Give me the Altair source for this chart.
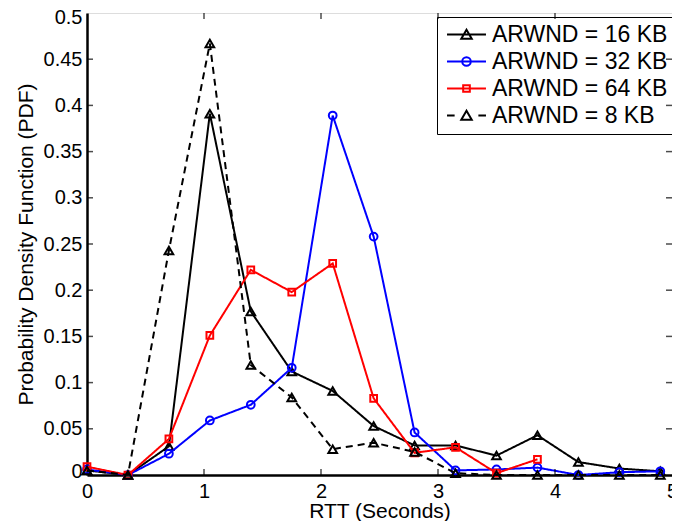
import altair as alt
import pandas as pd

# ---------------- data ----------------
rtt = [0, 0.35, 0.7, 1.05, 1.4, 1.75, 2.1, 2.45, 2.8, 3.15, 3.5, 3.85, 4.2, 4.55, 4.9]
pdf_16kb = [0.005, 0.0, 0.031, 0.391, 0.177, 0.112, 0.091, 0.053, 0.032, 0.032, 0.021, 0.043, 0.014, 0.007, 0.004]
pdf_32kb = [0.006, 0.0, 0.023, 0.059, 0.076, 0.116, 0.389, 0.258, 0.046, 0.005, 0.006, 0.008, 0.0, 0.003, 0.004]
pdf_64kb = [0.009, 0.0, 0.039, 0.151, 0.222, 0.198, 0.229, 0.083, 0.024, 0.030, 0.002, 0.017]
pdf_8kb = [0.005, 0.0, 0.243, 0.467, 0.119, 0.084, 0.028, 0.035, 0.025, 0.002, 0.0, 0.0, 0.0, 0.0, 0.0]

series_names = ["ARWND = 16 KB", "ARWND = 32 KB", "ARWND = 64 KB", "ARWND = 8 KB"]
series_values = [pdf_16kb, pdf_32kb, pdf_64kb, pdf_8kb]

x_ticks = [0, 1, 2, 3, 4, 5]
y_ticks = [0, 0.05, 0.1, 0.15, 0.2, 0.25, 0.3, 0.35, 0.4, 0.45, 0.5]

# ---------------- styles ----------------
colors = ["#000000", "#0000ff", "#ff0000", "#000000"]
shapes = ["triangle-up", "circle", "square", "triangle-up"]
sizes = [75, 60, 45, 75]
dashes = [[1, 0], [1, 0], [1, 0], [7, 5]]

# legend symbols: line + marker combined (custom SVG paths, unit = half of sqrt(size))
tri = "M0,-0.5L0.55,0.45L-0.55,0.45Z"
legend_paths = [
    "M-2.05,0H2.05" + tri,
    "M-2.05,0H2.05M0.45,0A0.45,0.45,0,1,1,-0.45,0A0.45,0.45,0,1,1,0.45,0",
    "M-2.05,0H2.05M-0.35,-0.35H0.35V0.35H-0.35Z",
    "M-2.05,0H-1.25M1.25,0H2.05" + tri,
]

FONT = "Liberation Sans"

rows = []
for name, vals in zip(series_names, series_values):
    for xv, yv in zip(rtt, vals):
        rows.append({"series": name, "rtt": xv, "pdf": yv})
df = pd.DataFrame(rows)

xs = alt.Scale(domain=[0, 5], nice=False, zero=False)
ys = alt.Scale(domain=[0, 0.5], nice=False)

x_enc = alt.X("rtt:Q", scale=xs, axis=alt.Axis(
    values=x_ticks, ticks=False, grid=False, format="d",
    title="RTT (Seconds)", labelFontSize=20, titleFontSize=21,
    labelPadding=6, titlePadding=-1, domainWidth=2.5, domainColor="black",
    labelColor="black", titleColor="black", labelFont=FONT, titleFont=FONT,
    titleFontWeight="normal", labelFlush=False))
y_enc = alt.Y("pdf:Q", scale=ys, axis=alt.Axis(
    values=y_ticks, ticks=False, grid=False, format=".2~f",
    title="Probability Density Function (PDF)", labelFontSize=20, titleFontSize=21,
    labelPadding=5, titlePadding=7, domainWidth=2.5, domainColor="black",
    labelColor="black", titleColor="black", labelFont=FONT, titleFont=FONT,
    titleFontWeight="normal", labelFlush=True, labelFlushOffset=6))

layers = []
for name, c, shp, sz, dsh in zip(series_names, colors, shapes, sizes, dashes):
    sub = df[df["series"] == name]
    line = alt.Chart(sub).mark_line(color=c, strokeWidth=2, strokeDash=dsh).encode(x=x_enc, y=y_enc)
    pts = alt.Chart(sub).mark_point(shape=shp, size=sz, color=c, filled=False, strokeWidth=2, opacity=1).encode(x="rtt:Q", y="pdf:Q")
    layers += [line, pts]

legend_def = alt.Legend(title=None, orient="none", legendX=350, legendY=4,
                        labelFontSize=23, labelFont=FONT, labelColor="black",
                        symbolSize=361, symbolStrokeWidth=2,
                        symbolOffset=12, labelOffset=14, rowPadding=3,
                        padding=6, strokeColor="black", labelLimit=400)

# legend layer (no visible marks, only the legend)
legend_layer = alt.Chart(df).mark_point(filled=False, strokeWidth=2, opacity=1, size=361).encode(
    x="rtt:Q", y="pdf:Q",
    color=alt.Color("series:N", scale=alt.Scale(domain=series_names, range=colors), legend=legend_def),
    shape=alt.Shape("series:N", scale=alt.Scale(domain=series_names, range=legend_paths), legend=legend_def),
).transform_filter("datum.pdf > 10")

# inward ticks
inner_x = pd.DataFrame({"t": x_ticks[1:-1]})
inner_y = pd.DataFrame({"t": y_ticks[1:-1]})
tick_bottom = alt.Chart(inner_x).mark_tick(orient="vertical", size=6, thickness=1.5, color="black", yOffset=-3).encode(
    x=alt.X("t:Q", scale=xs), y=alt.datum(0, scale=ys))
tick_top = alt.Chart(inner_x).mark_tick(orient="vertical", size=6, thickness=1.5, color="black", yOffset=3).encode(
    x=alt.X("t:Q", scale=xs), y=alt.datum(0.5, scale=ys))
tick_left = alt.Chart(inner_y).mark_tick(orient="horizontal", size=6, thickness=1.5, color="black", xOffset=3).encode(
    y=alt.Y("t:Q", scale=ys), x=alt.datum(0, scale=xs))
tick_right = alt.Chart(inner_y).mark_tick(orient="horizontal", size=6, thickness=1.5, color="black", xOffset=-3).encode(
    y=alt.Y("t:Q", scale=ys), x=alt.datum(5, scale=xs))

chart = alt.layer(*layers, tick_bottom, tick_top, tick_left, tick_right, legend_layer).properties(
    width=585, height=462,
    autosize=alt.AutoSizeParams(type="none"),
    padding={"left": 79, "top": 5, "right": 0, "bottom": 46},
).configure_view(stroke="black", strokeWidth=2).configure(background="white")

chart.save("out.html", embed_options={"renderer": "svg", "actions": False})
